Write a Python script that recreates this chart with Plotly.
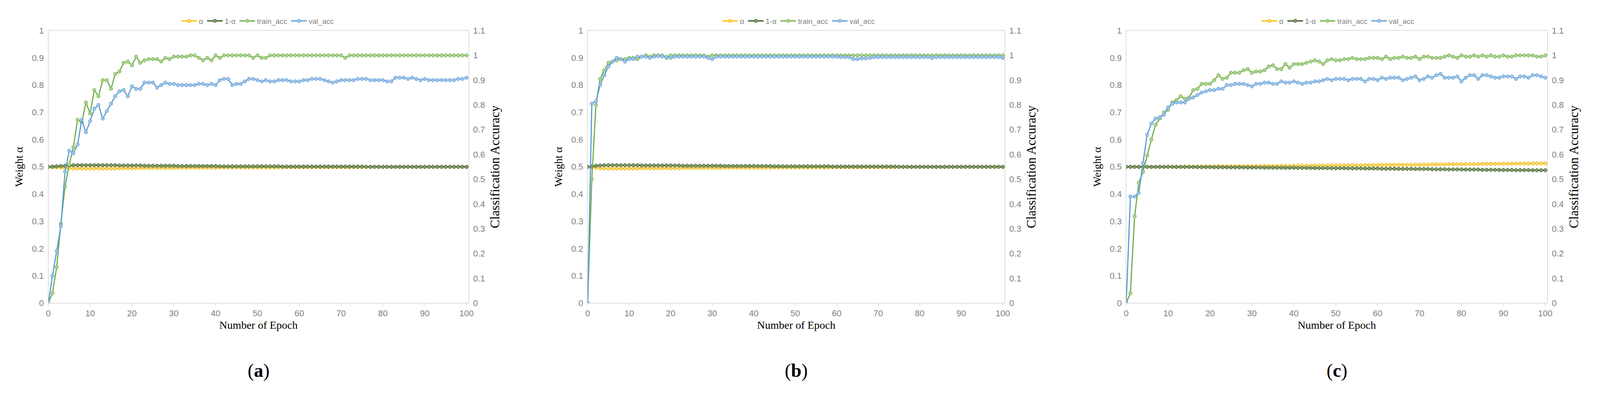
import plotly.graph_objects as go

EPOCHS = list(range(101))

# panel (a)
A_ALPHA = [0.5, 0.499, 0.498, 0.497, 0.496, 0.495] + [0.494] * 11 + [0.495] * 6 + [0.496] * 8 \
    + [0.497] * 10 + [0.498] * 15 + [0.499] * 20 + [0.5] * 25
A_TRAIN = [0, 0.04, 0.145, 0.32, 0.47, 0.56, 0.63, 0.74, 0.73, 0.81,
           0.765, 0.86, 0.835, 0.9, 0.9, 0.865, 0.925, 0.935, 0.97, 0.975,
           0.96, 0.995, 0.97, 0.98, 0.985, 0.985, 0.985, 0.975, 0.99, 0.985,
           0.995, 0.995, 0.995, 0.995, 1.0, 1.0, 0.99, 0.98, 0.99, 0.98,
           1.0, 0.99, 1.0, 1.0, 1.0, 1.0, 1.0, 1.0, 1.0, 0.99,
           1.0, 0.99, 0.99, 1.0, 1.0, 1.0, 1.0, 1.0, 1.0, 1.0,
           1.0, 1.0, 1.0, 1.0, 1.0, 1.0, 1.0, 1.0, 1.0, 1.0,
           1.0, 0.99, 1.0, 1.0, 1.0, 1.0, 1.0, 1.0, 1.0, 1.0,
           1.0, 1.0, 1.0, 1.0, 1.0, 1.0, 1.0, 1.0, 1.0, 1.0,
           1.0, 1.0, 1.0, 1.0, 1.0, 1.0, 1.0, 1.0, 1.0, 1.0, 1.0]
A_VAL = [0, 0.11, 0.21, 0.31, 0.53, 0.615, 0.605, 0.64, 0.74, 0.69,
         0.735, 0.785, 0.8, 0.745, 0.775, 0.805, 0.835, 0.855, 0.86, 0.835,
         0.875, 0.865, 0.865, 0.89, 0.89, 0.89, 0.87, 0.88, 0.89, 0.885,
         0.885, 0.88, 0.88, 0.88, 0.88, 0.88, 0.885, 0.885, 0.88, 0.885,
         0.88, 0.9, 0.905, 0.905, 0.88, 0.885, 0.885, 0.895, 0.905, 0.905,
         0.9, 0.895, 0.9, 0.895, 0.895, 0.9, 0.9, 0.9, 0.895, 0.895,
         0.895, 0.9, 0.9, 0.905, 0.905, 0.905, 0.9, 0.895, 0.89, 0.895,
         0.9, 0.9, 0.9, 0.9, 0.905, 0.905, 0.905, 0.9, 0.9, 0.9,
         0.9, 0.895, 0.895, 0.91, 0.91, 0.91, 0.905, 0.91, 0.905, 0.9,
         0.905, 0.9, 0.9, 0.9, 0.9, 0.9, 0.9, 0.9, 0.905, 0.905, 0.91]

# panel (b)
B_ALPHA = [0.5, 0.498, 0.496, 0.495] + [0.494] * 9 + [0.495] * 10 + [0.496] * 10 \
    + [0.497] * 12 + [0.498] * 14 + [0.499] * 16 + [0.5] * 26
B_TRAIN = [0, 0.5, 0.8, 0.905, 0.94, 0.97, 0.975, 0.98, 0.985, 0.985,
           0.99, 0.99, 0.985, 0.995, 1.0, 0.995, 1.0, 1.0, 1.0, 0.99,
           1.0, 1.0, 1.0, 1.0, 1.0, 1.0, 1.0, 1.0, 1.0, 0.995,
           1.0, 1.0, 1.0, 1.0, 1.0, 1.0, 1.0, 1.0, 1.0, 1.0,
           1.0, 1.0, 1.0, 1.0, 1.0, 1.0, 1.0, 1.0, 1.0, 1.0,
           1.0, 1.0, 1.0, 1.0, 1.0, 1.0, 1.0, 1.0, 1.0, 1.0,
           1.0, 1.0, 1.0, 1.0, 1.0, 1.0, 1.0, 1.0, 1.0, 1.0,
           1.0, 1.0, 1.0, 1.0, 1.0, 1.0, 1.0, 1.0, 1.0, 1.0,
           1.0, 1.0, 1.0, 1.0, 1.0, 1.0, 1.0, 1.0, 1.0, 1.0,
           1.0, 1.0, 1.0, 1.0, 1.0, 1.0, 1.0, 1.0, 1.0, 1.0, 1.0]
B_VAL = [0, 0.805, 0.815, 0.88, 0.92, 0.955, 0.975, 0.99, 0.985, 0.975,
         0.985, 0.985, 0.995, 0.995, 0.995, 0.99, 0.995, 0.997, 0.995, 0.995,
         0.99, 0.995, 0.995, 0.995, 0.995, 0.995, 0.995, 0.995, 0.995, 0.99,
         0.985, 0.995, 0.995, 0.995, 0.995, 0.995, 0.995, 0.995, 0.995, 0.995,
         0.995, 0.995, 0.995, 0.995, 0.995, 0.995, 0.995, 0.995, 0.995, 0.995,
         0.995, 0.995, 0.995, 0.995, 0.995, 0.995, 0.995, 0.995, 0.995, 0.995,
         0.995, 0.993, 0.993, 0.993, 0.985, 0.985, 0.988, 0.988, 0.99, 0.993,
         0.993, 0.993, 0.993, 0.993, 0.993, 0.993, 0.993, 0.993, 0.993, 0.993,
         0.993, 0.993, 0.993, 0.99, 0.993, 0.993, 0.993, 0.993, 0.993, 0.993,
         0.993, 0.993, 0.993, 0.993, 0.993, 0.993, 0.993, 0.993, 0.993, 0.993, 0.99]

# panel (c)
C_ALPHA = [0.5] * 12 + [0.5005] * 5 + [0.501] * 4 + [0.5015] * 4 + [0.502] * 4 \
    + [0.5025] * 4 + [0.503] * 4 + [0.5035] * 4 + [0.504] * 4 + [0.5045] * 4 \
    + [0.505] * 4 + [0.5055] * 4 + [0.506] * 4 + [0.507] * 4 + [0.5075] * 4 \
    + [0.508] * 4 + [0.509] * 4 + [0.5095] * 4 + [0.51] * 4 + [0.511] * 4 \
    + [0.5115] * 4 + [0.512] * 4 + [0.5125] * 4 + [0.513] * 4
C_TRAIN = [0, 0.04, 0.35, 0.485, 0.53, 0.595, 0.66, 0.72, 0.745, 0.77,
           0.78, 0.81, 0.82, 0.835, 0.825, 0.83, 0.86, 0.865, 0.885, 0.885,
           0.885, 0.9, 0.92, 0.905, 0.91, 0.93, 0.93, 0.93, 0.94, 0.945,
           0.93, 0.935, 0.935, 0.94, 0.955, 0.96, 0.945, 0.945, 0.965, 0.95,
           0.965, 0.965, 0.965, 0.97, 0.975, 0.98, 0.975, 0.965, 0.98, 0.985,
           0.98, 0.98, 0.985, 0.985, 0.99, 0.985, 0.985, 0.985, 0.99, 0.99,
           0.99, 0.985, 0.995, 0.985, 0.99, 0.99, 0.995, 0.99, 0.99, 0.995,
           0.985, 0.995, 0.995, 0.99, 0.99, 0.99, 0.995, 1.0, 0.995, 0.99,
           1.0, 0.995, 0.995, 1.0, 0.995, 1.0, 0.995, 1.0, 0.995, 0.995,
           1.0, 0.995, 0.995, 1.0, 1.0, 1.0, 1.0, 1.0, 0.995, 0.995, 1.0]
C_VAL = [0, 0.43, 0.43, 0.445, 0.565, 0.68, 0.725, 0.745, 0.75, 0.76,
         0.79, 0.805, 0.81, 0.81, 0.81, 0.825, 0.83, 0.84, 0.85, 0.855,
         0.86, 0.86, 0.865, 0.865, 0.88, 0.88, 0.885, 0.885, 0.885, 0.88,
         0.875, 0.885, 0.885, 0.89, 0.89, 0.885, 0.885, 0.895, 0.89, 0.89,
         0.895, 0.89, 0.885, 0.89, 0.89, 0.895, 0.895, 0.9, 0.905, 0.9,
         0.905, 0.905, 0.905, 0.9, 0.905, 0.905, 0.905, 0.895, 0.905, 0.905,
         0.9, 0.91, 0.905, 0.91, 0.91, 0.91, 0.9, 0.905, 0.91, 0.915,
         0.9, 0.905, 0.915, 0.91, 0.92, 0.925, 0.91, 0.91, 0.91, 0.915,
         0.895, 0.91, 0.92, 0.92, 0.905, 0.92, 0.92, 0.915, 0.91, 0.91,
         0.915, 0.915, 0.915, 0.905, 0.915, 0.915, 0.91, 0.92, 0.92, 0.915, 0.91]

PANELS = [
    ("a", A_ALPHA, A_TRAIN, A_VAL, [0.027, 0.292], 0.159),
    ("b", B_ALPHA, B_TRAIN, B_VAL, [0.367, 0.630], 0.500),
    ("c", C_ALPHA, C_TRAIN, C_VAL, [0.7065, 0.972], 0.840),
]

SERIES_STYLE = {
    "α": dict(line="#FFC000", fill="#FFD966", edge="#E0A800"),
    "1-α": dict(line="#375623", fill="#7F9A6B", edge="#375623"),
    "train_acc": dict(line="#70AD47", fill="#A9D18E", edge="#70AD47"),
    "val_acc": dict(line="#5B9BD5", fill="#9DC3E6", edge="#5B9BD5"),
}

TICK_FONT = dict(family="Liberation Sans Narrow, Liberation Sans", size=22, color="#7f7f7f")
TITLE_FONT = dict(family="Liberation Serif", size=28, color="black")
Y_DOMAIN = [0.223, 0.94]

fig = go.Figure()
layout = {}

for i, (tag, alpha, train, val, xdom, legx) in enumerate(PANELS):
    n = i + 1
    xname = "x" if n == 1 else f"x{n}"
    yl = 2 * n - 1
    yr = 2 * n
    ylname = "y" if yl == 1 else f"y{yl}"
    yrname = f"y{yr}"
    legname = "legend" if n == 1 else f"legend{n}"

    one_minus = [round(1 - a, 4) for a in alpha]
    series = [("α", alpha, ylname), ("1-α", one_minus, ylname),
              ("train_acc", train, yrname), ("val_acc", val, yrname)]
    for name, values, yaxis in series:
        st = SERIES_STYLE[name]
        fig.add_trace(go.Scatter(
            x=EPOCHS, y=values, name=name, mode="lines+markers",
            xaxis=xname, yaxis=yaxis, legend=legname,
            line=dict(color=st["line"], width=3),
            marker=dict(symbol="circle", size=9, color=st["fill"],
                        line=dict(color=st["edge"], width=1)),
        ))

    xkey = "xaxis" if n == 1 else f"xaxis{n}"
    layout[xkey] = dict(
        domain=xdom, anchor=ylname, range=[0, 100.5], dtick=10, tick0=0,
        showgrid=False, zeroline=False, showline=True, linecolor="#bfbfbf",
        mirror=True, ticks="outside", ticklen=6, tickcolor="#bfbfbf",
        tickfont=TICK_FONT,
        title=dict(text="Number of Epoch", font=TITLE_FONT, standoff=8),
    )
    ylkey = "yaxis" if yl == 1 else f"yaxis{yl}"
    layout[ylkey] = dict(
        domain=Y_DOMAIN, anchor=xname, range=[0, 1], dtick=0.1,
        showgrid=False, zeroline=False, showline=True, linecolor="#bfbfbf",
        ticks="", tickfont=TICK_FONT, ticklabelstandoff=6,
        title=dict(text="Weight α", font=TITLE_FONT, standoff=14),
    )
    layout[f"yaxis{yr}"] = dict(
        domain=Y_DOMAIN, anchor=xname, overlaying=ylname, side="right",
        range=[0, 1.1], dtick=0.1, showgrid=False, zeroline=False,
        showline=True, linecolor="#bfbfbf", ticks="", tickfont=TICK_FONT,
        ticklabelstandoff=6,
        title=dict(text="Classification Accuracy",
                   font=dict(family="Liberation Serif", size=33, color="black"),
                   standoff=14),
    )
    layout[legname] = dict(
        orientation="h", x=legx, y=0.985, xanchor="center", yanchor="top",
        font=dict(family="Liberation Sans Narrow, Liberation Sans", size=19, color="#7f7f7f"),
        itemwidth=40, bgcolor="rgba(0,0,0,0)",
    )
    fig.add_annotation(
        text=f"(<b>{tag}</b>)", xref="paper", yref="paper",
        x=(xdom[0] + xdom[1]) / 2, y=0.045, xanchor="center", yanchor="middle",
        showarrow=False, font=dict(family="Liberation Serif", size=48, color="black"),
    )

fig.update_layout(
    margin=dict(l=0, r=0, t=0, b=0),
    paper_bgcolor="white", plot_bgcolor="white", **layout,
)

fig.write_html("out.html")
